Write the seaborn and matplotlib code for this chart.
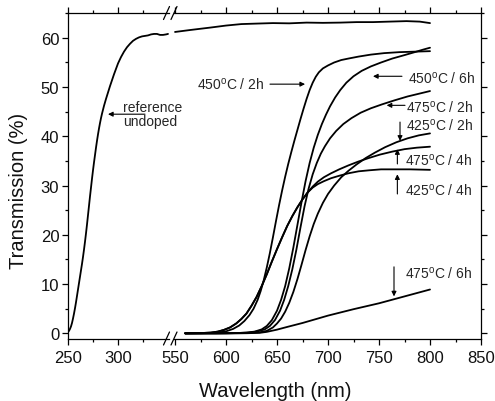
import numpy as np
import pandas as pd
import matplotlib
matplotlib.use('Agg')
import matplotlib.pyplot as plt
import seaborn as sns
from matplotlib.lines import Line2D
from matplotlib.ticker import FixedLocator, MultipleLocator

sns.set_theme(style='ticks')
plt.rcParams['font.family'] = ['Liberation Sans', 'DejaVu Sans']
plt.rcParams['mathtext.fontset'] = 'custom'
plt.rcParams['mathtext.rm'] = 'Liberation Sans'
plt.rcParams['mathtext.it'] = 'Liberation Sans:italic'
plt.rcParams['mathtext.bf'] = 'Liberation Sans:bold'

# ---------------- data ----------------
# reference undoped, UV part (left axis)
ref_uv_wl = [250, 251, 252, 253, 254, 255, 256, 257, 258, 259, 260, 261, 262, 263, 264, 265,
             266, 267, 268, 269, 270, 271, 272, 273, 274, 275, 276, 277, 278, 279, 280, 281,
             282, 283, 284, 286, 288, 290, 292, 294, 296, 298, 300, 303, 306, 309, 312, 315,
             318, 321, 324, 327, 330, 333, 336, 339, 342, 345, 348, 350]
ref_uv_t = [0.3, 0.5, 0.9, 1.4, 2.1, 3.0, 4.0, 5.1, 6.3, 7.6, 8.9, 10.2, 11.5, 12.8, 14.1, 15.5,
            17.0, 18.6, 20.3, 22.1, 24.0, 25.9, 27.8, 29.6, 31.4, 33.1, 34.7, 36.2, 37.7, 39.1,
            40.4, 41.6, 42.7, 43.7, 44.6, 46.2, 47.6, 48.9, 50.2, 51.4, 52.6, 53.7, 54.8, 56.1,
            57.2, 58.1, 58.8, 59.4, 59.8, 60.1, 60.3, 60.4, 60.5, 60.7, 60.8, 60.8, 60.6, 60.6,
            60.7, 60.8]
# reference undoped, visible part (right axis)
ref_vis_wl = [550, 565, 585, 600, 615, 630, 646, 662, 679, 695, 712, 728, 744, 760, 777, 790, 800]
ref_vis_t = [61.2, 61.6, 62.1, 62.5, 62.8, 62.9, 63.0, 62.95, 63.1, 63.05, 63.1, 63.2, 63.2,
             63.3, 63.4, 63.3, 63.0]

c450_2h_wl = [560, 575, 590, 600, 607, 613, 618, 623, 627, 631, 634, 637, 640, 643, 646, 649,
              652, 655, 658, 661, 664, 667, 670, 673, 676, 679, 682, 685, 688, 691, 695, 700,
              706, 713, 720, 730, 742, 755, 770, 785, 800]
c450_2h_t = [0, 0, 0.1, 0.4, 0.9, 1.6, 2.5, 3.7, 5.0, 6.8, 8.6, 10.8, 13.4, 16.3, 19.5, 22.8,
             26.0, 29.0, 31.8, 34.4, 36.8, 39.1, 41.3, 43.5, 45.6, 47.6, 49.4, 50.9, 52.1, 53.0,
             53.8, 54.4, 55.0, 55.5, 55.8, 56.2, 56.6, 56.9, 57.1, 57.2, 57.3]

c450_6h_wl = [560, 590, 610, 620, 628, 635, 640, 645, 650, 654, 658, 662, 666, 670, 674, 678,
              682, 686, 690, 694, 698, 702, 707, 712, 718, 725, 733, 742, 752, 763, 775, 785,
              793, 800]
c450_6h_t = [0, 0, 0.05, 0.15, 0.35, 0.8, 1.5, 2.7, 4.6, 6.8, 9.6, 13.2, 17.4, 22.0, 26.6, 30.9,
             34.6, 37.7, 40.3, 42.5, 44.4, 46.1, 47.9, 49.4, 50.9, 52.2, 53.3, 54.2, 55.0, 55.8,
             56.5, 57.1, 57.6, 58.0]

c475_2h_wl = [560, 590, 610, 622, 630, 638, 643, 648, 653, 657, 661, 665, 669, 673, 677, 681,
              685, 689, 693, 697, 702, 708, 715, 723, 732, 742, 753, 765, 778, 790, 800]
c475_2h_t = [0, 0, 0.05, 0.15, 0.35, 0.8, 1.5, 2.7, 4.6, 6.8, 9.6, 13.0, 17.0, 21.5, 25.8, 29.4,
             32.3, 34.6, 36.5, 38.0, 39.6, 41.1, 42.5, 43.7, 44.8, 45.7, 46.5, 47.3, 48.1, 48.7,
             49.2]

c425_2h_wl = [560, 600, 620, 633, 640, 646, 650, 654, 658, 662, 666, 670, 674, 678, 682, 686,
              690, 695, 700, 706, 713, 720, 728, 737, 746, 756, 767, 778, 789, 800]
c425_2h_t = [0, 0, 0.05, 0.2, 0.5, 1.2, 2.0, 3.0, 4.4, 6.2, 8.4, 11.0, 13.9, 16.9, 19.7, 22.2,
             24.3, 26.5, 28.3, 30.0, 31.7, 33.0, 34.3, 35.6, 36.7, 37.8, 38.8, 39.6, 40.2, 40.6]

c475_4h_wl = [560, 575, 585, 592, 598, 604, 610, 615, 620, 625, 630, 635, 640, 645, 650, 655,
              660, 665, 670, 675, 680, 685, 690, 696, 703, 711, 720, 730, 740, 751, 763, 775,
              787, 800]
c475_4h_t = [0, 0.05, 0.15, 0.35, 0.7, 1.2, 2.0, 2.9, 4.0, 5.6, 7.4, 9.6, 12.0, 14.6, 17.1, 19.5,
             21.8, 23.8, 25.6, 27.2, 28.6, 29.8, 30.8, 31.7, 32.5, 33.3, 34.1, 34.9, 35.6, 36.3,
             36.9, 37.4, 37.7, 37.9]

c425_4h_wl = [560, 575, 585, 592, 598, 604, 610, 615, 620, 625, 630, 635, 640, 645, 650, 655,
              660, 665, 670, 675, 680, 685, 690, 696, 703, 711, 720, 730, 740, 752, 765, 780,
              800]
c425_4h_t = [0, 0.05, 0.15, 0.35, 0.7, 1.2, 2.0, 2.9, 4.0, 5.6, 7.4, 9.6, 12.0, 14.6, 17.1, 19.5,
             21.8, 23.8, 25.6, 27.2, 28.6, 29.6, 30.3, 30.9, 31.5, 32.0, 32.5, 32.9, 33.1, 33.3,
             33.3, 33.3, 33.2]

c475_6h_wl = [560, 600, 620, 633, 640, 650, 660, 675, 700, 725, 750, 775, 800]
c475_6h_t = [0, 0, 0.02, 0.1, 0.3, 0.75, 1.3, 2.1, 3.6, 4.9, 6.1, 7.5, 8.9]

vis_curves = [
    (ref_vis_wl, ref_vis_t), (c450_2h_wl, c450_2h_t), (c450_6h_wl, c450_6h_t),
    (c475_2h_wl, c475_2h_t), (c425_2h_wl, c425_2h_t), (c475_4h_wl, c475_4h_t),
    (c425_4h_wl, c425_4h_t), (c475_6h_wl, c475_6h_t),
]

left_major = [250, 300]
left_minor = [275, 325]
right_major = [550, 600, 650, 700, 750, 800, 850]
right_minor = [575, 625, 675, 725, 775, 825]

# ---------------- layout ----------------
W, H = 495, 402
fig = plt.figure(figsize=(W / 100, H / 100), dpi=100)
def fx(px): return px / W
def fy(py): return 1 - py / H
top, bot = 14, 339.5
ax1 = fig.add_axes([fx(68), fy(bot), fx(169) - fx(68), fy(top) - fy(bot)])
ax2 = fig.add_axes([fx(174), fy(bot), fx(481) - fx(174), fy(top) - fy(bot)])
ax2.patch.set_facecolor('none')

LW = 1.3
sns.lineplot(x=ref_uv_wl, y=ref_uv_t, ax=ax1, color='black', linewidth=LW,
             estimator=None, legend=False)
for wl, t in vis_curves:
    sns.lineplot(x=wl, y=t, ax=ax2, color='black', linewidth=LW, estimator=None, legend=False)

ylim = (-1.05, 65.05)
ax1.set_xlim(250, 351)
ax2.set_xlim(549, 850)
for ax in (ax1, ax2):
    ax.set_ylim(*ylim)
    ax.set_xlabel('')
    ax.set_ylabel('')
    for s in ax.spines.values():
        s.set_linewidth(0.9)
        s.set_color('black')
ax1.spines['right'].set_visible(False)
ax2.spines['left'].set_visible(False)

ax1.xaxis.set_major_locator(FixedLocator(left_major))
ax1.xaxis.set_minor_locator(FixedLocator(left_minor))
ax2.xaxis.set_major_locator(FixedLocator(right_major))
ax2.xaxis.set_minor_locator(FixedLocator(right_minor))
for ax in (ax1, ax2):
    ax.yaxis.set_major_locator(MultipleLocator(10))
    ax.yaxis.set_minor_locator(MultipleLocator(5))
    ax.tick_params(which='both', direction='out', color='black', width=0.9,
                   labelsize=12, labelcolor='#111111')
    ax.tick_params(which='major', length=4.3)
    ax.tick_params(which='minor', length=2.5)
    ax.tick_params(axis='x', which='both', top=True, bottom=True, labeltop=False,
                   labelbottom=True, pad=4)
ax1.tick_params(axis='y', which='both', left=True, right=False, labelleft=True, pad=2)
ax2.tick_params(axis='y', which='both', left=False, right=True, labelleft=False,
                labelright=False)

# break marks
for cx in (166.5, 174):
    for cy in (top, bot):
        fig.add_artist(Line2D([fx(cx - 3), fx(cx + 3)], [fy(cy + 6.5), fy(cy - 6.5)],
                              transform=fig.transFigure, color='black', lw=0.9))

# axis labels
fig.text(fx(275), fy(397), 'Wavelength (nm)', ha='center', va='baseline', fontsize=14.5,
         color='#111111')
fig.text(fx(19), fy(191), 'Transmission (%)', rotation=90, ha='center', va='center',
         fontsize=14.5, color='#111111')

# annotations
AFS = 10
arrow = dict(arrowstyle='-|>', color='black', lw=0.8, mutation_scale=7, shrinkA=0, shrinkB=0)
ax1.text(304.7, 45.1, 'reference', fontsize=AFS, ha='left', va='baseline', clip_on=False)
ax1.text(304.7, 42.4, 'undoped', fontsize=AFS, ha='left', va='baseline', clip_on=False)
ax1.annotate('', xy=(290, 44.5), xytext=(327, 44.5), arrowprops=arrow)

deg = '$^{\\mathrm{o}}$'
ax2.text(637.3, 49.6, f'450{deg}C / 2h', fontsize=AFS, ha='right', va='baseline')
ax2.annotate('', xy=(677.5, 50.6), xytext=(643.1, 50.6), arrowprops=arrow)

ax2.text(778.4, 51.0, f'450{deg}C / 6h', fontsize=AFS, ha='left', va='baseline')
ax2.annotate('', xy=(744.1, 52.2), xytext=(772.5, 52.2), arrowprops=arrow)

ax2.text(776.2, 45.1, f'475{deg}C / 2h', fontsize=AFS, ha='left', va='baseline')
ax2.annotate('', xy=(757.5, 46.3), xytext=(775.5, 46.3), arrowprops=arrow)

ax2.text(776.2, 41.3, f'425{deg}C / 2h', fontsize=AFS, ha='left', va='baseline')
ax2.annotate('', xy=(770.6, 39.1), xytext=(770.6, 42.9), arrowprops=arrow)

ax2.text(775.5, 34.3, f'475{deg}C / 4h', fontsize=AFS, ha='left', va='baseline')
ax2.annotate('', xy=(768, 37.4), xytext=(768, 34.4), arrowprops=arrow)

ax2.text(775.5, 28.1, f'425{deg}C / 4h', fontsize=AFS, ha='left', va='baseline')
ax2.annotate('', xy=(768, 32.3), xytext=(768, 28.3), arrowprops=arrow)

ax2.text(775.5, 11.4, f'475{deg}C / 6h', fontsize=AFS, ha='left', va='baseline')
ax2.annotate('', xy=(764.7, 7.5), xytext=(764.7, 13.5), arrowprops=arrow)

fig.savefig('out.png', dpi=100)
